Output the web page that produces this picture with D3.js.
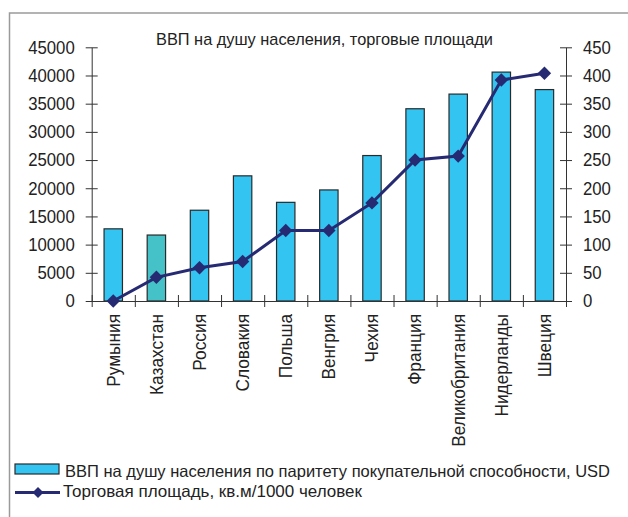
<!DOCTYPE html>
<html>
<head>
<meta charset="utf-8">
<script src="https://cdn.jsdelivr.net/npm/d3@7"></script>
<style>
  body { margin: 0; background: #fff; }
  svg text { font-family: "Liberation Sans", Arial, sans-serif; fill: #222; }
</style>
</head>
<body>
<div id="chart"></div>
<script>
const countries = ["Румыния", "Казахстан", "Россия", "Словакия", "Польша", "Венгрия",
  "Чехия", "Франция", "Великобритания", "Нидерланды", "Швеция"];
const gdp = [12800, 11700, 16100, 22200, 17500, 19700, 25800, 34100, 36700, 40600, 37500];
const retailArea = [0, 42, 59, 70, 125, 125, 174, 250, 257, 392, 404];
const leftTicks = [0, 5000, 10000, 15000, 20000, 25000, 30000, 35000, 40000, 45000];
const rightTicks = [0, 50, 100, 150, 200, 250, 300, 350, 400, 450];
const titleText = "ВВП на душу населения, торговые площади";
const barLabel = "ВВП на душу населения по паритету покупательной способности, USD";
const lineLabel = "Торговая площадь, кв.м/1000 человек";

const width = 628, height = 517;
const plotLeft = 91.7, plotRight = 566, plotTop = 47.3, plotBottom = 301;

const svg = d3.select("#chart").append("svg")
  .attr("width", width)
  .attr("height", height);

// squeeze a text to a given share of its natural width (reference font is condensed)
function squeeze(sel, factor) {
  sel.each(function() {
    const w = this.getComputedTextLength();
    d3.select(this).attr("textLength", w * factor).attr("lengthAdjust", "spacingAndGlyphs");
  });
}
function fitTo(sel, w) {
  sel.attr("textLength", w).attr("lengthAdjust", "spacingAndGlyphs");
}

// frame
svg.append("path")
  .attr("d", `M9.5,${height} V13 H${width}`)
  .attr("fill", "none")
  .attr("stroke", "#9a9a9a")
  .attr("stroke-width", 1.5);

const x = d3.scaleBand().domain(countries).range([plotLeft, plotRight]).padding(0);
const yL = d3.scaleLinear().domain([0, 45000]).range([plotBottom, plotTop]);
const yR = d3.scaleLinear().domain([0, 450]).range([plotBottom, plotTop]);

svg.append("text")
  .attr("x", 156)
  .attr("y", 45)
  .style("font-size", "17px")
  .text(titleText)
  .call(fitTo, 337);

// bars
const barW = 18.4;
svg.append("g").selectAll("rect")
  .data(gdp)
  .join("rect")
  .attr("x", (d, i) => x(countries[i]) + x.bandwidth() / 2 - barW / 2)
  .attr("y", d => yL(d))
  .attr("width", barW)
  .attr("height", d => plotBottom - yL(d))
  .attr("fill", (d, i) => i === 1 ? "#45c1c8" : "#33c4f2")
  .attr("stroke", "#2a2a2a")
  .attr("stroke-width", 1.2);

// axes
function styleAxis(g) {
  g.select(".domain").attr("stroke", "#333");
  g.selectAll(".tick line").attr("stroke", "#333");
  g.selectAll(".tick text").style("font-size", "18px").attr("fill", "#222");
}

const axL = svg.append("g")
  .attr("transform", `translate(${plotLeft},0)`)
  .call(d3.axisLeft(yL).tickValues(leftTicks).tickFormat(d3.format("d"))
    .tickSize(6).tickSizeOuter(0).tickPadding(11));
axL.selectAll(".tick line").attr("x1", 6);
styleAxis(axL);
axL.selectAll(".tick text").call(squeeze, 0.93);

const axR = svg.append("g")
  .attr("transform", `translate(${plotRight},0)`)
  .call(d3.axisRight(yR).tickValues(rightTicks).tickFormat(d3.format("d"))
    .tickSize(6).tickSizeOuter(0).tickPadding(11));
axR.selectAll(".tick line").attr("x1", -6);
styleAxis(axR);
axR.selectAll(".tick text").call(squeeze, 0.93);

const xi = d3.scaleLinear().domain([0, countries.length]).range([plotLeft, plotRight]);
const axB = svg.append("g")
  .attr("transform", `translate(0,${plotBottom})`)
  .call(d3.axisBottom(xi).tickValues(d3.range(countries.length + 1)).tickSize(6).tickSizeOuter(0).tickFormat(""));
axB.selectAll(".tick line").attr("y1", -6);
styleAxis(axB);

// category labels
svg.append("g").selectAll("text")
  .data(countries)
  .join("text")
  .attr("transform", d => `translate(${x(d) + x.bandwidth() / 2},314) rotate(-90)`)
  .attr("text-anchor", "end")
  .attr("dy", "0.35em")
  .style("font-size", "18px")
  .text(d => d)
  .call(squeeze, 0.96);

// line
const line = d3.line()
  .x((d, i) => x(countries[i]) + x.bandwidth() / 2)
  .y(d => yR(d));

svg.append("path")
  .datum(retailArea)
  .attr("d", line)
  .attr("fill", "none")
  .attr("stroke", "#262a72")
  .attr("stroke-width", 3);

const diamond = d3.symbol().type(d3.symbolSquare).size(90);
svg.append("g").selectAll("path")
  .data(retailArea)
  .join("path")
  .attr("transform", (d, i) => `translate(${x(countries[i]) + x.bandwidth() / 2},${yR(d)}) rotate(45)`)
  .attr("d", diamond)
  .attr("fill", "#262a72");

// legend
const leg = svg.append("g");
leg.append("rect")
  .attr("x", 15).attr("y", 464)
  .attr("width", 44).attr("height", 10)
  .attr("fill", "#33c4f2")
  .attr("stroke", "#2a2a2a")
  .attr("stroke-width", 1.2);
leg.append("text")
  .attr("x", 65).attr("y", 477)
  .style("font-size", "16.5px")
  .text(barLabel)
  .call(fitTo, 545);
leg.append("line")
  .attr("x1", 15).attr("x2", 60)
  .attr("y1", 492.5).attr("y2", 492.5)
  .attr("stroke", "#262a72")
  .attr("stroke-width", 3);
leg.append("path")
  .attr("transform", "translate(38,492.5) rotate(45)")
  .attr("d", d3.symbol().type(d3.symbolSquare).size(60))
  .attr("fill", "#262a72");
leg.append("text")
  .attr("x", 63).attr("y", 497)
  .style("font-size", "16.5px")
  .text(lineLabel)
  .call(fitTo, 299);
</script>
</body>
</html>
